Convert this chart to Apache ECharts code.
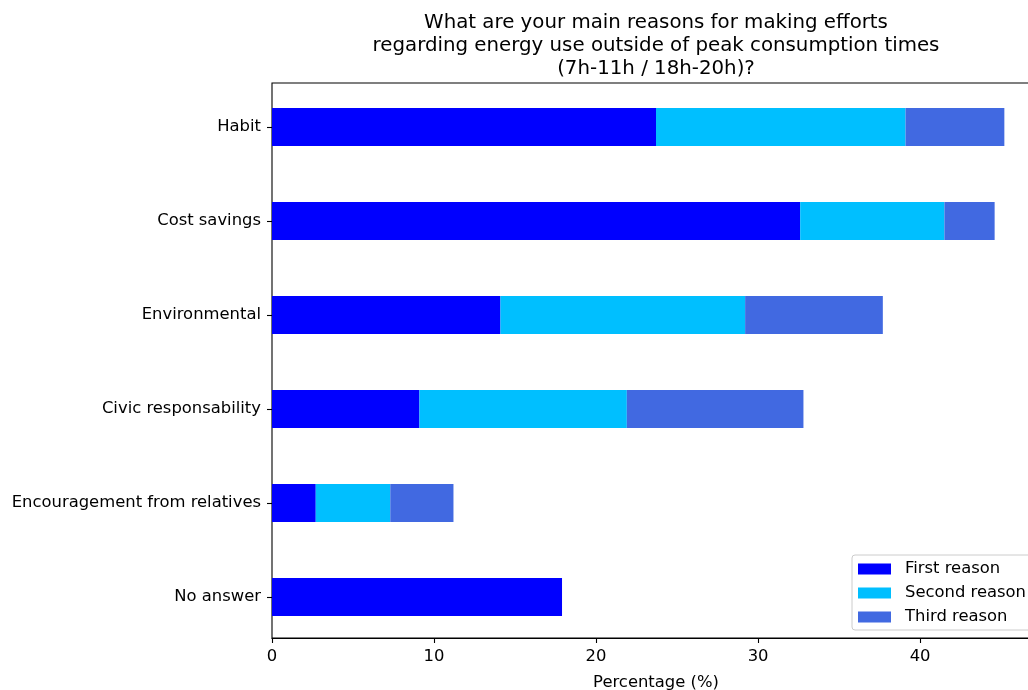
<!DOCTYPE html>
<html>
<head>
<meta charset="utf-8">
<script src="https://cdn.jsdelivr.net/npm/echarts@6/dist/echarts.min.js"></script>
<style>
  html, body { margin: 0; padding: 0; background: #fff; }
  #chart { width: 1028px; height: 690px; }
</style>
</head>
<body>
<div id="chart"></div>
<script>
// Survey answers, percentage of respondents per reason rank
const categories = [
  'Habit',
  'Cost savings',
  'Environmental',
  'Civic responsability',
  'Encouragement from relatives',
  'No answer'
];
const firstReason  = [23.7, 32.6, 14.1, 9.1, 2.7, 17.9];
const secondReason = [15.4,  8.9, 15.1, 12.8, 4.6, 0];
const thirdReason  = [ 6.1,  3.1,  8.5, 10.9, 3.9, 0];
const seriesNames = ['First reason', 'Second reason', 'Third reason'];
const seriesColors = ['#0000ff', '#00bfff', '#4169e1'];

const FONT = 'DejaVu Sans';
const X_MAX = 47.4;
const PLOT_LEFT = 272;
const PLOT_WIDTH = 768; // the frame runs past the right edge of the canvas

const chart = echarts.init(document.getElementById('chart'), null, { renderer: 'canvas' });

const seriesData = [firstReason, secondReason, thirdReason];

chart.setOption({
  animation: false,
  backgroundColor: '#fff',
  textStyle: { fontFamily: FONT },
  title: {
    text: 'What are your main reasons for making efforts\nregarding energy use outside of peak consumption times\n(7h-11h / 18h-20h)?',
    left: PLOT_LEFT + PLOT_WIDTH / 2,
    top: 12,
    padding: 0,
    textAlign: 'center',
    textStyle: { fontFamily: FONT, fontSize: 19.8, fontWeight: 'normal', color: '#000', lineHeight: 22.7 }
  },
  legend: {
    data: seriesNames,
    orient: 'vertical',
    left: 852,
    top: 555,
    padding: [6, 8, 5, 6],
    itemWidth: 33,
    itemHeight: 11,
    itemGap: 8,
    icon: 'rect',
    borderColor: '#cccccc',
    borderWidth: 1,
    borderRadius: 3,
    backgroundColor: 'rgba(255,255,255,0.8)',
    textStyle: { fontFamily: FONT, fontSize: 16.4, color: '#000', lineHeight: 16, padding: [0, 0, 0, 9] }
  },
  grid: [
    // bars
    { left: PLOT_LEFT, width: PLOT_WIDTH, top: 80, height: 564, outerBoundsMode: 'none', containLabel: false },
    // frame and value axis
    { left: PLOT_LEFT, width: PLOT_WIDTH, top: 83, height: 555, outerBoundsMode: 'none', containLabel: false,
      show: true, borderColor: '#000', borderWidth: 1.1, backgroundColor: 'transparent' }
  ],
  xAxis: [
    { type: 'value', gridIndex: 0, min: 0, max: X_MAX, show: false },
    {
      type: 'value', gridIndex: 1, min: 0, max: X_MAX, interval: 10,
      name: 'Percentage (%)',
      nameLocation: 'middle',
      nameGap: 37,
      nameTextStyle: { fontFamily: FONT, fontSize: 16.4, color: '#000' },
      axisLine: { show: true, lineStyle: { color: '#000', width: 1.1 } },
      axisTick: { show: true, length: 5, lineStyle: { color: '#000', width: 1.1 } },
      axisLabel: { fontFamily: FONT, fontSize: 16.4, color: '#000', margin: 11, showMaxLabel: false },
      splitLine: { show: false }
    }
  ],
  yAxis: [
    {
      type: 'category', gridIndex: 0, inverse: true, data: categories,
      axisLine: { show: false },
      axisTick: { show: true, alignWithLabel: true, length: 5, lineStyle: { color: '#000', width: 1.1 } },
      axisLabel: { fontFamily: FONT, fontSize: 16.4, color: '#000', margin: 11 }
    },
    { type: 'value', gridIndex: 1, show: false, min: 0, max: 1 }
  ],
  series: seriesNames.map((name, i) => ({
    name: name,
    type: 'bar',
    stack: 'reasons',
    xAxisIndex: 0,
    yAxisIndex: 0,
    barWidth: 38,
    data: seriesData[i],
    itemStyle: { color: seriesColors[i] },
    emphasis: { disabled: true }
  }))
});
</script>
</body>
</html>
